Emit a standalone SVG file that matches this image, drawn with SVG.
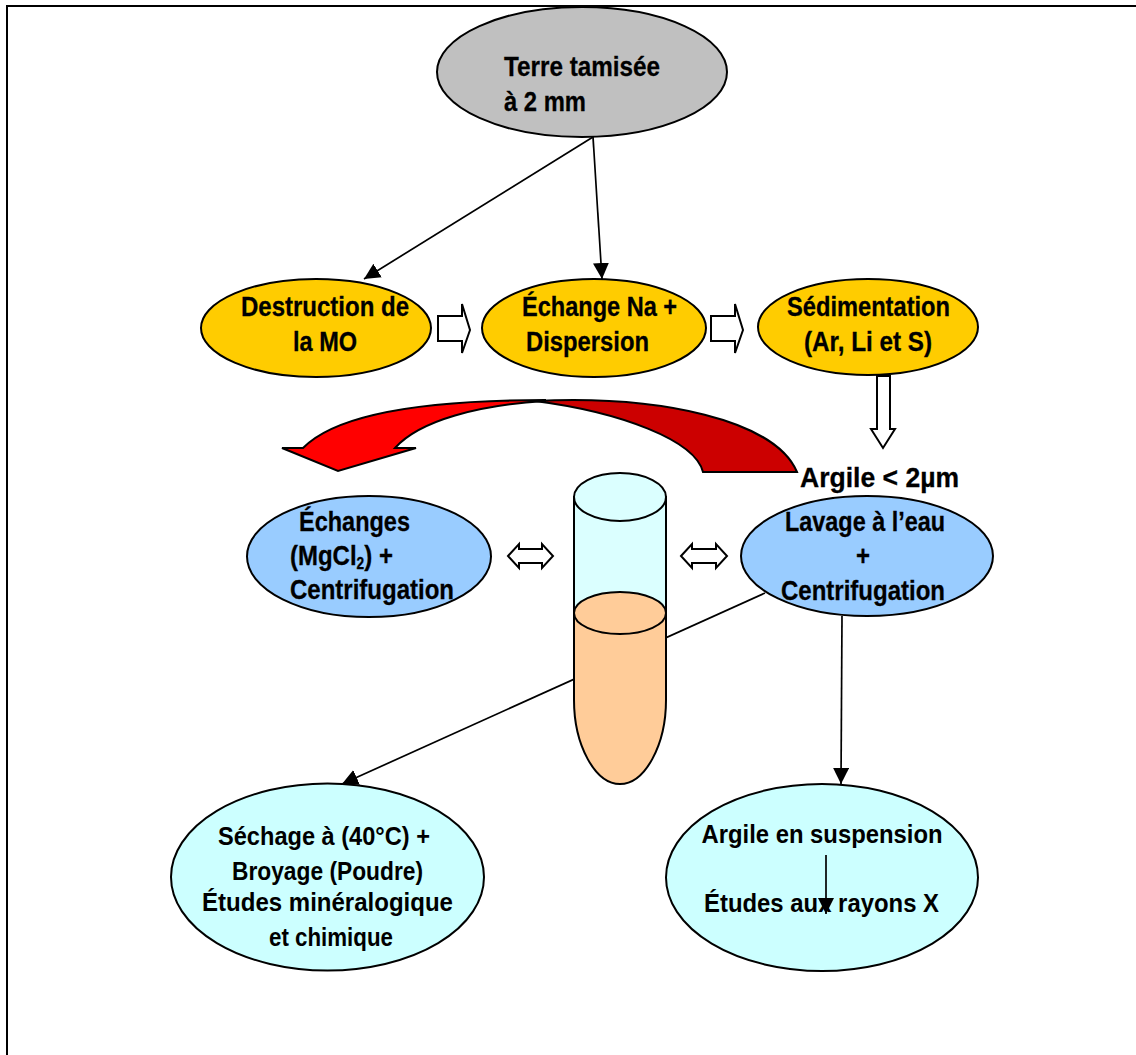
<svg xmlns="http://www.w3.org/2000/svg" width="1136" height="1055" viewBox="0 0 1136 1055">
<style>
.s{stroke:#000;stroke-width:2}
.t{font-family:"Liberation Sans",Arial,sans-serif;font-weight:700;font-size:25px;fill:#000}
.u{font-size:28px;stroke:#000;stroke-width:.3}
.l{stroke:#000;stroke-width:1.7;fill:none}
.w{fill:#fff;stroke:#000;stroke-width:2}
.gold{fill:#ffcc00}.blue{fill:#99ccff}.cyan{fill:#ccffff}
</style>
<defs>
<marker id="a" markerUnits="userSpaceOnUse" markerWidth="17" markerHeight="17" refX="16" refY="8" orient="auto"><path d="M0 0L16 8L0 16Z" fill="#000"/></marker>
</defs>
<rect width="1136" height="1055" fill="#fff"/>
<path id="frame" d="M7 1055V6H1136" fill="none" stroke="#000" stroke-width="2"/>
<g id="connectors">
<path class="l" marker-end="url(#a)" d="M593 137L364 279"/>
<path class="l" marker-end="url(#a)" d="M593 137L602 279"/>
<path class="l" marker-end="url(#a)" d="M765 593L342 784"/>
<path class="l" marker-end="url(#a)" d="M842 616L841 784"/>
</g>
<g id="terre"><ellipse class="s" cx="582" cy="72" rx="145" ry="65" fill="#c0c0c0"/><text class="t u" x="504" y="76" textLength="156" lengthAdjust="spacingAndGlyphs">Terre tamisée</text><text class="t u" x="504" y="111" textLength="82" lengthAdjust="spacingAndGlyphs">à 2 mm</text></g>
<g id="destruction"><ellipse class="s gold" cx="316" cy="328" rx="115" ry="49"/><text class="t u" x="241" y="316" textLength="168" lengthAdjust="spacingAndGlyphs">Destruction de</text><text class="t u" x="293" y="351" textLength="64" lengthAdjust="spacingAndGlyphs">la MO</text></g>
<g id="echange"><ellipse class="s gold" cx="594" cy="328" rx="112" ry="49"/><text class="t u" x="522" y="316" textLength="155" lengthAdjust="spacingAndGlyphs">Échange Na +</text><text class="t u" x="526" y="351" textLength="123" lengthAdjust="spacingAndGlyphs">Dispersion</text></g>
<g id="sedimentation"><ellipse class="s gold" cx="868" cy="327" rx="110" ry="48"/><text class="t u" x="787" y="316" textLength="163" lengthAdjust="spacingAndGlyphs">Sédimentation</text><text class="t u" x="804" y="351" textLength="128" lengthAdjust="spacingAndGlyphs">(Ar, Li et S)</text></g>
<g id="block-arrows">
<path class="w" d="M438 316H462V304L470 330L462 353V341H438Z"/>
<path class="w" d="M711 316H735V304L743 330L735 353V341H711Z"/>
<path class="w" d="M877 376H890V429H895L883 448L871 429H877Z"/>
<path class="w" d="M508 556L519 544V549H542V544L553 556L542 568V563H519V568Z"/>
<path class="w" d="M681 556L692 544V549H716V544L727 556L716 568V563H692V568Z"/>
</g>
<g id="curved-arrow">
<path class="s" fill="#cc0000" d="M535 401C660 395 775 420 797 472H703C695 440 620 412 535 401Z"/>
<path class="s" fill="#ff0000" d="M282 448H303C340 410 440 400 545 400V401C480 405 420 420 395 448H416L338 471Z"/>
</g>
<g id="argile-label"><text class="t u" x="800" y="487" textLength="159" lengthAdjust="spacingAndGlyphs">Argile &lt; 2µm</text></g>
<g id="echanges"><ellipse class="s blue" cx="369" cy="556.5" rx="122" ry="60.5"/><text class="t u" x="299" y="531" textLength="111" lengthAdjust="spacingAndGlyphs">Échanges</text><text class="t u" transform="translate(290 565) scale(.857 1)">(MgCl<tspan font-size="16" baseline-shift="-4">2</tspan>) +</text><text class="t u" x="290" y="599" textLength="164" lengthAdjust="spacingAndGlyphs">Centrifugation</text></g>
<g id="lavage"><ellipse class="s blue" cx="867" cy="556" rx="126" ry="60"/><text class="t u" x="785" y="531" textLength="160" lengthAdjust="spacingAndGlyphs">Lavage à l’eau</text><text class="t u" x="856" y="565" textLength="14" lengthAdjust="spacingAndGlyphs">+</text><text class="t u" x="781" y="600" textLength="164" lengthAdjust="spacingAndGlyphs">Centrifugation</text></g>
<g id="tube">
<path class="s" d="M574 497V613H666V497Z" fill="#dbffff"/>
<ellipse class="s" cx="620" cy="497" rx="46" ry="24" fill="#dbffff"/>
<path class="s" fill="#ffcc99" d="M574 613V700C574 745 595 784 620 784C645 784 666 745 666 700V613Z"/>
<ellipse class="s" cx="620" cy="613" rx="46" ry="21" fill="#ffcc99"/>
</g>
<g id="sechage"><ellipse class="s cyan" cx="327.500" cy="877" rx="156.500" ry="93.500"/><text class="t" x="218" y="845" textLength="212" lengthAdjust="spacingAndGlyphs">Séchage à (40°C) +</text><text class="t" x="232" y="880" textLength="191" lengthAdjust="spacingAndGlyphs">Broyage (Poudre)</text><text class="t" x="202" y="911" textLength="251" lengthAdjust="spacingAndGlyphs">Études minéralogique</text><text class="t" x="269" y="946" textLength="124" lengthAdjust="spacingAndGlyphs">et chimique</text></g>
<g id="suspension"><ellipse class="s cyan" cx="822" cy="877.500" rx="156" ry="93.500"/><text class="t" x="701.500" y="843" textLength="241" lengthAdjust="spacingAndGlyphs">Argile en suspension</text><text class="t" x="704" y="912" textLength="235" lengthAdjust="spacingAndGlyphs">Études aux rayons X</text><path class="l" marker-end="url(#a)" d="M826 855V914"/></g>
</svg>
